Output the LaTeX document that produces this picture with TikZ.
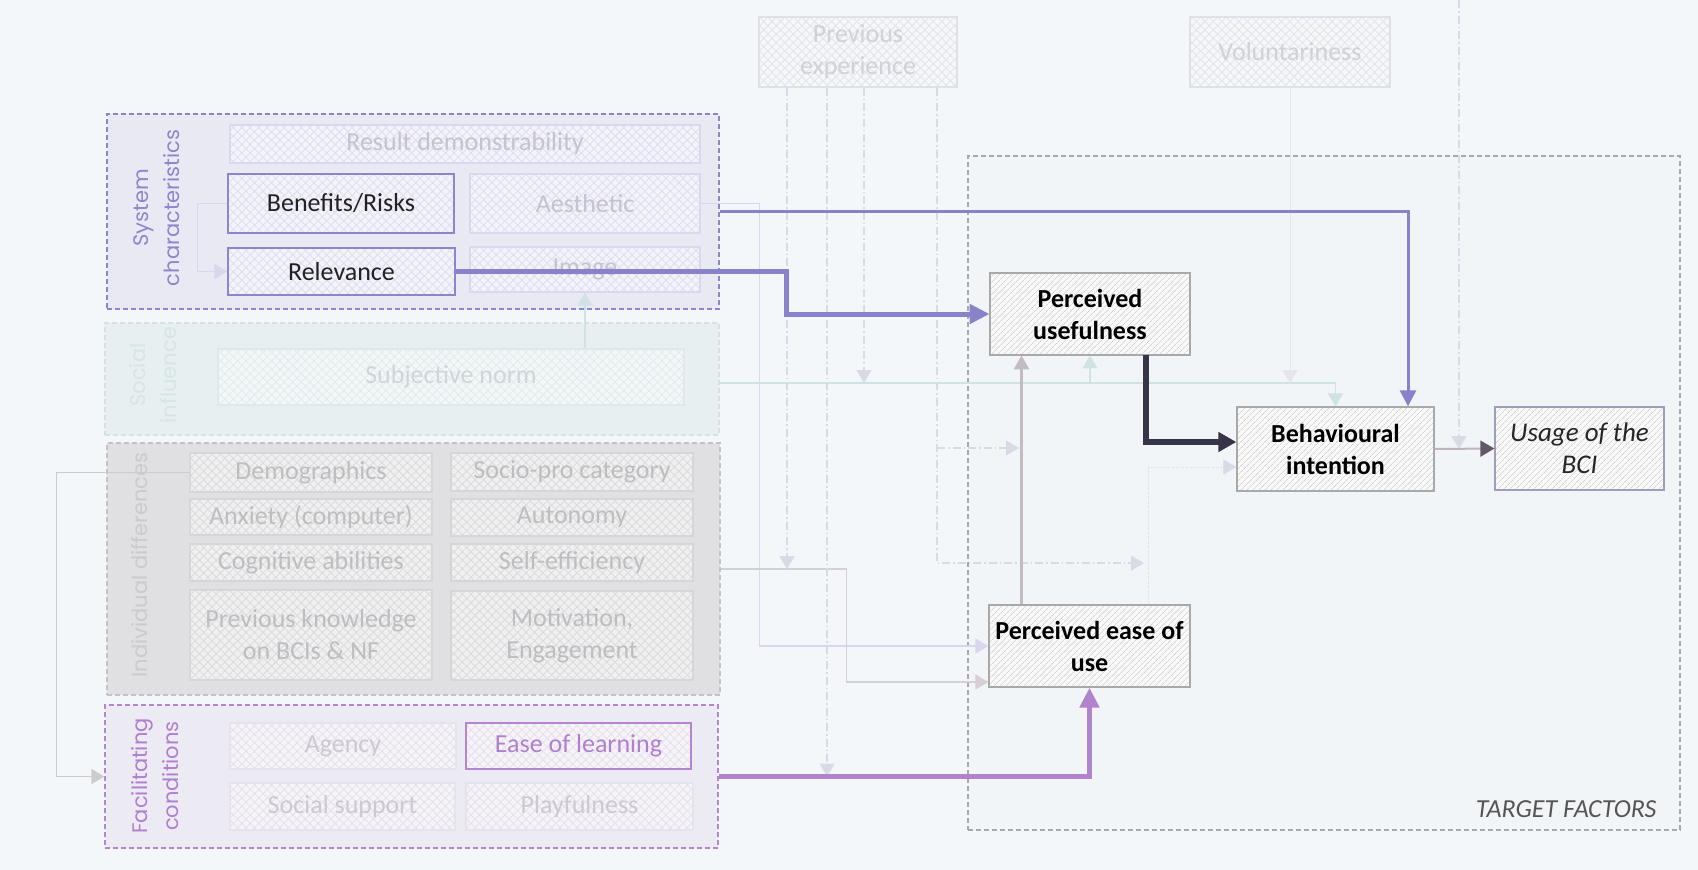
\documentclass[tikz,border=0pt]{standalone}
\usepackage{fontspec}
\setmainfont{Carlito}
\newfontfamily\grpfont{Poppins}
\usetikzlibrary{arrows.meta,patterns.meta,calc}
\definecolor{bgc}{HTML}{F4F7F9}
\definecolor{sysfill}{HTML}{E9E9F4}
\definecolor{sysdraw}{HTML}{8B85CB}
\definecolor{socfill}{HTML}{E7EFF1}
\definecolor{socdraw}{HTML}{D3E3E5}
\definecolor{indfill}{HTML}{E0E0E2}
\definecolor{inddraw}{HTML}{C4C2C5}
\definecolor{facfill}{HTML}{ECEAF2}
\definecolor{facdraw}{HTML}{B585D2}
\definecolor{tgtdraw}{HTML}{A9A9A9}
\definecolor{tgtfill}{HTML}{F2F5F7}
\definecolor{purpline}{HTML}{8882CA}
\definecolor{violline}{HTML}{B083CC}
\definecolor{darkline}{HTML}{37344A}
\definecolor{mauveline}{HTML}{C3BBC3}
\definecolor{tealline}{HTML}{CFE2E4}
\definecolor{lavline}{HTML}{D9D6EE}
\definecolor{mauvethin}{HTML}{D6D0D6}
\definecolor{modc}{HTML}{D8DAE6}
\definecolor{grayline}{HTML}{CCCCCC}
\definecolor{usetip}{HTML}{625966}
\definecolor{useline}{HTML}{BDB4BD}
\definecolor{usedraw}{HTML}{A09CBA}
\definecolor{sysnfill}{HTML}{F3F3FA}
\definecolor{sysnpat}{HTML}{E0DEF0}
\definecolor{sysndraw}{HTML}{DAD7EF}
\definecolor{sysntext}{HTML}{C4C3CF}
\definecolor{socnfill}{HTML}{F2F7F8}
\definecolor{socnpat}{HTML}{E3ECEE}
\definecolor{socndraw}{HTML}{DFE9EB}
\definecolor{socntext}{HTML}{CFD6D8}
\definecolor{indnfill}{HTML}{F0F0F1}
\definecolor{indnpat}{HTML}{DCDCDE}
\definecolor{indndraw}{HTML}{D6D6D8}
\definecolor{indntext}{HTML}{BEBEC0}
\definecolor{facnfill}{HTML}{F6F4F9}
\definecolor{facnpat}{HTML}{E6E2EC}
\definecolor{facndraw}{HTML}{E6E2EE}
\definecolor{facntext}{HTML}{CDC9D2}
\definecolor{penfill}{HTML}{F6F7F9}
\definecolor{penpat}{HTML}{E3E5EB}
\definecolor{pendraw}{HTML}{DFE1E9}
\definecolor{pentext}{HTML}{D0D1D9}
\definecolor{hatchc}{HTML}{D4D4D4}
\definecolor{nodefill}{HTML}{F9F9F9}
\definecolor{systext}{HTML}{8C86CC}
\definecolor{soctext}{HTML}{D7E5E7}
\definecolor{indtext}{HTML}{CBCBCD}
\definecolor{factext}{HTML}{B07FD0}
\definecolor{keytext}{HTML}{222222}
\definecolor{tftext}{HTML}{555555}
% box from corner (x1,y1) to corner (x2,y2), y measured downward
\newcommand\mybox[7]{%
  \pgfmathsetmacro\bxcx{(#3+#5)/2}%
  \pgfmathsetmacro\bxcy{(#4+#6)/2}%
  \pgfmathsetmacro\bxw{#5-#3}%
  \pgfmathsetmacro\bxh{#6-#4}%
  \node[#2, minimum width=\bxw pt, minimum height=\bxh pt] (#1) at (\bxcx,\bxcy) {#7};}
\begin{document}
\begin{tikzpicture}[x=1pt,y=-1pt,
  box/.style={rectangle, inner sep=0pt, align=center, font=\fontsize{26}{32}\selectfont, line width=1.2pt},
  fade/.style n args={4}{box, draw=#2, text=#3, preaction={fill=#1},
     pattern={Hatch[angle=45,distance=6pt,line width=0.9pt]}, pattern color=#4},
  tgt/.style={box, draw=tgtdraw, line width=1.3pt, preaction={fill=nodefill},
     pattern={Lines[angle=45,distance=4pt,line width=0.8pt]}, pattern color=hatchc,
     font=\bfseries\fontsize{26}{32}\selectfont, text=black},
  grp/.style n args={2}{rectangle, draw=#2, fill=#1, dash pattern=on 5pt off 3pt, line width=1.2pt, inner sep=0pt},
  glabel/.style={rotate=90, align=center, font=\grpfont\fontsize{21}{31}\selectfont},
  thin/.style={line width=1.4pt, -{Triangle[length=13pt,width=15pt]}},
  modl/.style={line width=1.2pt, draw=modc, dash pattern=on 8pt off 3pt on 1.5pt off 3pt,
     -{Triangle[length=13pt,width=15pt]}},
  bigp/.style={line width=5pt, -{Triangle[length=20pt,width=19pt]}}
]
\useasboundingbox[fill=bgc] (0,0) rectangle (1698,870);

% group boxes
\mybox{tgtG}{grp={tgtfill}{tgtdraw}}{968}{156}{1680}{830}{}
\mybox{sysG}{grp={sysfill}{sysdraw}}{107}{114}{719}{309}{}
\mybox{socG}{grp={socfill}{socdraw}}{105}{323}{719}{435}{}
\mybox{indG}{grp={indfill}{inddraw}}{107}{443}{720}{695}{}
\mybox{facG}{grp={facfill}{facdraw}}{105}{705}{718}{848}{}

\node[glabel, text=systext] (sysL) at (157,208) {System\\characteristics};
\node[glabel, text=soctext] (socL) at (153,375) {Social\\influence};
\node[glabel, text=indtext] (indL) at (140,565) {Individual differences};
\node[glabel, text=factext] (facL) at (155,776) {Facilitating\\conditions};

\node[anchor=east, font=\itshape\fontsize{26}{32}\selectfont, text=tftext] (tf) at (1660,809) {TARGET FACTORS};

% system characteristics
\mybox{rd}{fade={sysnfill}{sysndraw}{sysntext}{sysnpat}}{230}{125}{700}{163}{Result demonstrability}
\mybox{ben}{fade={sysnfill}{sysdraw}{keytext}{sysnpat}}{228}{174}{454}{233}{Benefits/Risks}
\mybox{aes}{fade={sysnfill}{sysndraw}{sysntext}{sysnpat}}{470}{174}{700}{233}{Aesthetic}
\mybox{rel}{fade={sysnfill}{sysdraw}{keytext}{sysnpat}}{228}{248}{455}{295}{Relevance}
\mybox{img}{fade={sysnfill}{sysndraw}{sysntext}{sysnpat}}{470}{247}{700}{292}{Image}
% social influence
\mybox{sn}{fade={socnfill}{socndraw}{socntext}{socnpat}}{218}{349}{684}{405}{Subjective norm}
% individual differences
\mybox{dem}{fade={indnfill}{indndraw}{indntext}{indnpat}}{190}{453}{432}{492}{Demographics}
\mybox{spc}{fade={indnfill}{indndraw}{indntext}{indnpat}}{451}{453}{693}{491}{Socio-pro category}
\mybox{anx}{fade={indnfill}{indndraw}{indntext}{indnpat}}{190}{499}{432}{535}{Anxiety (computer)}
\mybox{aut}{fade={indnfill}{indndraw}{indntext}{indnpat}}{451}{499}{693}{536}{Autonomy}
\mybox{cog}{fade={indnfill}{indndraw}{indntext}{indnpat}}{190}{544}{432}{581}{Cognitive abilities}
\mybox{se}{fade={indnfill}{indndraw}{indntext}{indnpat}}{451}{544}{693}{581}{Self-efficiency}
\mybox{pk}{fade={indnfill}{indndraw}{indntext}{indnpat}}{190}{590}{432}{680}{Previous knowledge\\on BCIs \& NF}
\mybox{mot}{fade={indnfill}{indndraw}{indntext}{indnpat}}{451}{591}{693}{680}{Motivation,\\Engagement}
% facilitating conditions
\mybox{agc}{fade={facnfill}{facndraw}{facntext}{facnpat}}{230}{723}{456}{769}{Agency}
\mybox{eol}{fade={facnfill}{facdraw}{factext}{facnpat}}{466}{723}{691}{769}{Ease of learning}
\mybox{ss}{fade={facnfill}{facndraw}{facntext}{facnpat}}{230}{783}{455}{830}{Social support}
\mybox{pf}{fade={facnfill}{facndraw}{facntext}{facnpat}}{466}{783}{693}{830}{Playfulness}
% moderators
\mybox{pe}{fade={penfill}{pendraw}{pentext}{penpat}}{759}{17}{957}{87}{Previous\\experience}
\mybox{vol}{fade={penfill}{pendraw}{pentext}{penpat}}{1190}{17}{1390}{87}{Voluntariness}
% target factors
\mybox{pu}{tgt}{990}{273}{1190}{355}{Perceived\\usefulness}
\mybox{peou}{tgt}{989}{605}{1190}{687}{Perceived ease of\\use}
\mybox{bi}{tgt}{1237}{407}{1434}{491}{Behavioural\\intention}
\mybox{use}{tgt, draw=usedraw, font=\itshape\fontsize{27}{32}\selectfont, text=black!85}{1495}{407}{1664}{490}{Usage of the\\BCI}

% helper coordinates
\coordinate (snrow) at ([yshift=-4pt]socG.east);
\coordinate (pea) at ([xshift=-71pt]pe.south);
\coordinate (peb) at ([xshift=-31pt]pe.south);
\coordinate (pec) at ([xshift=6pt]pe.south);
\coordinate (ped) at ([xshift=79pt]pe.south);
\coordinate (pp) at ([xshift=-68pt]peou.north);
\coordinate (modA) at (1019,448);
\coordinate (modB) at (1144,563);
\coordinate (topend) at (1459,0);

% faint connectors
\draw[thin, draw=lavline] (ben.west) -- ++(-30,0) |- (rel.west);
\draw[thin, draw=tealline] (img.south |- sn.north) -- (img.south);
\draw[thin, draw=lavline] (aes.east) -- ++(59,0) |- (peou.west);
\draw[thin, draw=mauvethin] (indG.east) -- ++(126,0) |- ([yshift=-36pt]peou.west);
\draw[thin, draw=grayline] (dem.west) -- ++(-133,0) |- (facG.west);
\draw[thin, draw=tealline] (snrow) -| (bi.north);
\draw[thin, draw=tealline] (pu.south |- snrow) -- (pu.south);
\draw[thin, draw=modc!70!white, line width=1pt] (vol.south) -- (vol.south |- snrow);
\draw[modl] (pea) -- (pea |- indG.east);
\draw[modl] (peb) -- (peb |- facG.east);
\draw[modl] (pec) -- (pec |- snrow);
\draw[modl] (ped) |- (modB);
\draw[modl] (ped |- modA) -- (modA);
\draw[modl] (topend) -- (topend |- bi.east);
\draw[thin, draw=modc, line width=1pt, dash pattern=on 1pt off 1.5pt] ([xshift=58.5pt]peou.north) |- ([yshift=-18pt]bi.west);

% strong connectors
\draw[line width=2pt, draw=useline, -{Triangle[length=14pt,width=16pt,color=usetip]}] (bi.east) -- (use.west);
\draw[line width=2.5pt, draw=mauveline, -{Triangle[length=14pt,width=15pt]}] (pp) -- (pp |- pu.south);
\draw[line width=3pt, draw=purpline, -{Triangle[length=16pt,width=16pt]}] (sysG.east) -| ([xshift=72.5pt]bi.north);
\draw[bigp, draw=purpline] (rel.east) -- ++(331,0) |- (pu.west);
\draw[bigp, draw=violline] (facG.east) -| (peou.south);
\draw[line width=6pt, draw=darkline, -{Triangle[length=18pt,width=19pt]}] ([xshift=56pt]pu.south) |- ([yshift=7pt]bi.west);
\end{tikzpicture}
\end{document}
